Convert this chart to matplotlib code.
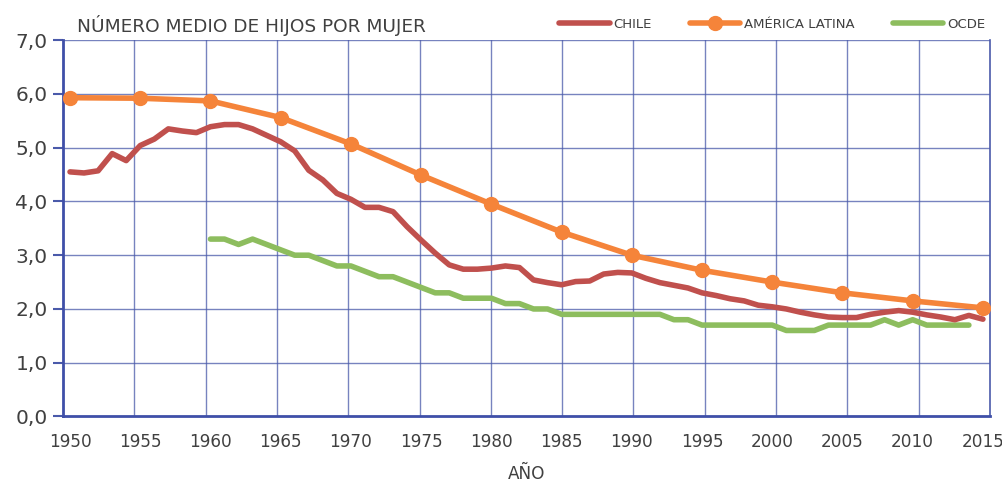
import numpy as np
import matplotlib
matplotlib.use("Agg")
import matplotlib.pyplot as plt

plt.rcParams['font.family'] = ['DejaVu Sans']

years = np.arange(1950, 2016)

chile = [4.55, 4.53, 4.57, 4.89, 4.76, 5.04, 5.16, 5.35, 5.31, 5.28,
         5.39, 5.43, 5.43, 5.35, 5.23, 5.11, 4.94, 4.58, 4.40, 4.15,
         4.04, 3.89, 3.89, 3.81, 3.53, 3.28, 3.04, 2.82, 2.74, 2.74,
         2.76, 2.80, 2.77, 2.54, 2.49, 2.45, 2.51, 2.52, 2.65, 2.68,
         2.67, 2.57, 2.49, 2.44, 2.39, 2.30, 2.25, 2.19, 2.15, 2.07,
         2.04, 2.00, 1.94, 1.89, 1.85, 1.84, 1.84, 1.90, 1.94, 1.97,
         1.94, 1.89, 1.85, 1.80, 1.88, 1.81]

al_years = np.arange(1950, 2016, 5)
america_latina = [5.93, 5.92, 5.87, 5.56, 5.07, 4.49, 3.95, 3.43,
                  3.00, 2.72, 2.50, 2.30, 2.15, 2.02]

ocde_years = np.arange(1960, 2015)
ocde = [3.3, 3.3, 3.2, 3.3, 3.2, 3.1, 3.0, 3.0, 2.9, 2.8,
        2.8, 2.7, 2.6, 2.6, 2.5, 2.4, 2.3, 2.3, 2.2, 2.2,
        2.2, 2.1, 2.1, 2.0, 2.0, 1.9, 1.9, 1.9, 1.9, 1.9,
        1.9, 1.9, 1.9, 1.8, 1.8, 1.7, 1.7, 1.7, 1.7, 1.7,
        1.7, 1.6, 1.6, 1.6, 1.7, 1.7, 1.7, 1.7, 1.8, 1.7,
        1.8, 1.7, 1.7, 1.7, 1.7]

x_labels = np.arange(1950, 2016, 5)
y_ticks = np.arange(0, 8, 1)

text_col = '#404040'
grid_col = '#4a5aaa'

fig = plt.figure(figsize=(10.03, 4.84), dpi=100)
ax = fig.add_axes([0.0628, 0.1395, 0.9242, 0.7775])

ax.plot(years, chile, color='#c0504d', lw=4, solid_capstyle='round',
        solid_joinstyle='round', label='CHILE', zorder=3)
ax.plot(al_years, america_latina, color='#f5843a', lw=4, marker='o',
        markersize=10, solid_capstyle='round', label='AMÉRICA LATINA', zorder=4)
ax.plot(ocde_years, ocde, color='#8dbd5e', lw=4, solid_capstyle='round',
        solid_joinstyle='round', label='OCDE', zorder=2)

ax.set_xlim(1949.5, 2015.5)
ax.set_ylim(0, 7)

# vertical grid splits the axis in 13 equal parts, labels sit on the years
for gx in np.linspace(1949.5, 2015.5, 14)[1:-1]:
    ax.axvline(gx, color=grid_col, lw=1.0, alpha=0.75, zorder=1)
for gy in y_ticks[1:]:
    ax.axhline(gy, color=grid_col, lw=1.0, alpha=0.75, zorder=1)

ax.set_xticks(x_labels)
ax.set_xticklabels([str(v) for v in x_labels], fontsize=12.2, color=text_col)
ax.tick_params(axis='x', length=0, pad=12)
ax.set_yticks(y_ticks)
ax.set_yticklabels([f'{v},0' for v in y_ticks], fontsize=14.5, color=text_col)
ax.tick_params(axis='y', length=7, width=1.5, color=grid_col, pad=4)

for side in ['left', 'bottom']:
    ax.spines[side].set_color('#3f4fa8')
    ax.spines[side].set_linewidth(2)
ax.spines['right'].set_color(grid_col)
ax.spines['right'].set_linewidth(1.2)
ax.spines['top'].set_visible(False)

ax.set_xlabel('AÑO', fontsize=12.2, color=text_col, labelpad=10)
ax.text(0.015, 1.012, 'NÚMERO MEDIO DE HIJOS POR MUJER', transform=ax.transAxes,
        fontsize=13.3, color=text_col, ha='left', va='bottom')

ax.legend(ncol=3, loc='lower right', bbox_to_anchor=(1.005, 1.0), frameon=False,
          fontsize=9.5, handlelength=3.8, columnspacing=2.9, handletextpad=0.3,
          labelcolor=text_col, borderaxespad=0.3)

fig.savefig('out.png', dpi=100)
